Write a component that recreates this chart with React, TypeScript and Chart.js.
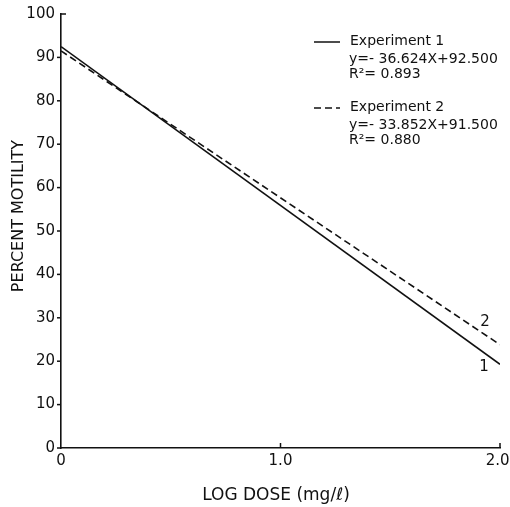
import React, { useEffect, useRef } from "react";
import { Chart, registerables } from "chart.js";
Chart.register(...registerables);

// Data
const doseX = [0, 2];
const exp1Values = [92.5, 19.3];
const exp2Values = [91.5, 23.8];
const xTickValues = [0, 1, 2];
const xTickLabels = ["0", "1.0", "2.0 "];
const yTickStep = 10;
const seriesNames = ["Experiment 1", "Experiment 2"];
const equations = ["y=- 36.624X+92.500", "y=- 33.852X+91.500"];
const rSquared = ["R²= 0.893", "R²= 0.880"];
const endLabels = ["1", "2"];
const xTitle = "LOG DOSE (mg/ℓ)";
const yTitle = "PERCENT MOTILITY";

const INK = "#111";
const FONT = "'DejaVu Sans', sans-serif";

const overlayPlugin = {
  id: "overlay",
  afterDraw(chart: any) {
    const { ctx, chartArea, scales } = chart;
    const xs = scales.x;
    const ys = scales.y;
    ctx.save();
    ctx.strokeStyle = INK;
    ctx.fillStyle = INK;
    ctx.lineWidth = 1.5;
    // y ticks (outward); top tick points inward
    ys.ticks.forEach((t: any) => {
      const py = ys.getPixelForValue(t.value);
      ctx.beginPath();
      if (t.value === ys.max) {
        ctx.moveTo(chartArea.left, py);
        ctx.lineTo(chartArea.left + 5, py);
      } else {
        ctx.moveTo(chartArea.left - 4, py);
        ctx.lineTo(chartArea.left, py);
      }
      ctx.stroke();
    });
    // x ticks (inward)
    xTickValues.forEach((v) => {
      if (v === 0) return;
      const px = xs.getPixelForValue(v);
      ctx.beginPath();
      ctx.moveTo(px, chartArea.bottom);
      ctx.lineTo(px, chartArea.bottom - 5);
      ctx.stroke();
    });
    // y title
    ctx.save();
    ctx.translate(19, 216);
    ctx.rotate(-Math.PI / 2);
    ctx.font = `16px ${FONT}`;
    ctx.textAlign = "center";
    ctx.textBaseline = "middle";
    ctx.fillText(yTitle, 0, 0);
    ctx.restore();
    // x title
    ctx.font = `17px ${FONT}`;
    ctx.textAlign = "center";
    ctx.textBaseline = "middle";
    ctx.fillText(xTitle, 276, 496);
    // legend
    const blocks = [
      { top: 41, dash: [] as number[] },
      { top: 107, dash: [7, 4] },
    ];
    blocks.forEach((b, i) => {
      ctx.setLineDash(b.dash);
      ctx.lineWidth = 1.5;
      ctx.beginPath();
      ctx.moveTo(314, b.top + 1);
      ctx.lineTo(340, b.top + 1);
      ctx.stroke();
      ctx.setLineDash([]);
      ctx.textAlign = "left";
      ctx.textBaseline = "middle";
      ctx.font = `14px ${FONT}`;
      ctx.fillText(seriesNames[i], 350, b.top);
      ctx.fillText(equations[i], 349, b.top + 18);
      ctx.fillText(rSquared[i], 349, b.top + 33);
    });
    // end labels
    ctx.font = `15px ${FONT}`;
    ctx.textAlign = "center";
    ctx.textBaseline = "middle";
    const ex = xs.getPixelForValue(doseX[doseX.length - 1]);
    const e1 = ys.getPixelForValue(exp1Values[exp1Values.length - 1]);
    const e2 = ys.getPixelForValue(exp2Values[exp2Values.length - 1]);
    ctx.fillText(endLabels[0], ex - 16, e1 + 3);
    ctx.fillText(endLabels[1], ex - 15, e2 - 23);
    ctx.restore();
  },
};

export default function App() {
  const ref = useRef<HTMLCanvasElement>(null);
  useEffect(() => {
    if (!ref.current) return;
    const chart = new Chart(ref.current, {
      type: "scatter",
      data: {
        datasets: [
          {
            label: seriesNames[0],
            data: doseX.map((x, i) => ({ x, y: exp1Values[i] })),
            showLine: true,
            borderColor: INK,
            borderWidth: 1.6,
            pointRadius: 0,
            fill: false,
          },
          {
            label: seriesNames[1],
            data: doseX.map((x, i) => ({ x, y: exp2Values[i] })),
            showLine: true,
            borderColor: INK,
            borderWidth: 1.6,
            borderDash: [7, 4],
            pointRadius: 0,
            fill: false,
          },
        ],
      },
      options: {
        responsive: false,
        animation: false,
        layout: { padding: { left: 0, right: 10, top: 14, bottom: 0 } },
        plugins: { legend: { display: false }, tooltip: { enabled: false } },
        scales: {
          x: {
            type: "linear",
            min: 0,
            max: 2,
            grid: { display: false, drawTicks: false },
            border: { display: true, color: INK, width: 1.6 },
            afterBuildTicks: (s: any) => {
              s.ticks = xTickValues.map((v) => ({ value: v }));
            },
            ticks: {
              autoSkip: false,
              maxRotation: 0,
              padding: 4,
              color: INK,
              font: { family: FONT, size: 15 },
              callback: (v: any) => xTickLabels[xTickValues.indexOf(Number(v))] ?? "",
            },
            afterFit: (s: any) => {
              s.height = 59;
              s.paddingLeft = 0;
              s.paddingRight = 0;
            },
          },
          y: {
            type: "linear",
            min: 0,
            max: 100,
            grid: { display: false, drawTicks: false },
            border: { display: true, color: INK, width: 1.6 },
            ticks: {
              stepSize: yTickStep,
              padding: 6,
              color: INK,
              font: { family: FONT, size: 15 },
            },
            afterFit: (s: any) => {
              s.width = 61;
              s.paddingTop = 0;
              s.paddingBottom = 0;
            },
          },
        },
      },
      plugins: [overlayPlugin],
    } as any);
    return () => chart.destroy();
  }, []);
  return (
    <div style={{ position: "fixed", left: 0, top: 0, width: 510, height: 507, background: "#fff" }}>
      <canvas ref={ref} width={510} height={507} />
    </div>
  );
}
